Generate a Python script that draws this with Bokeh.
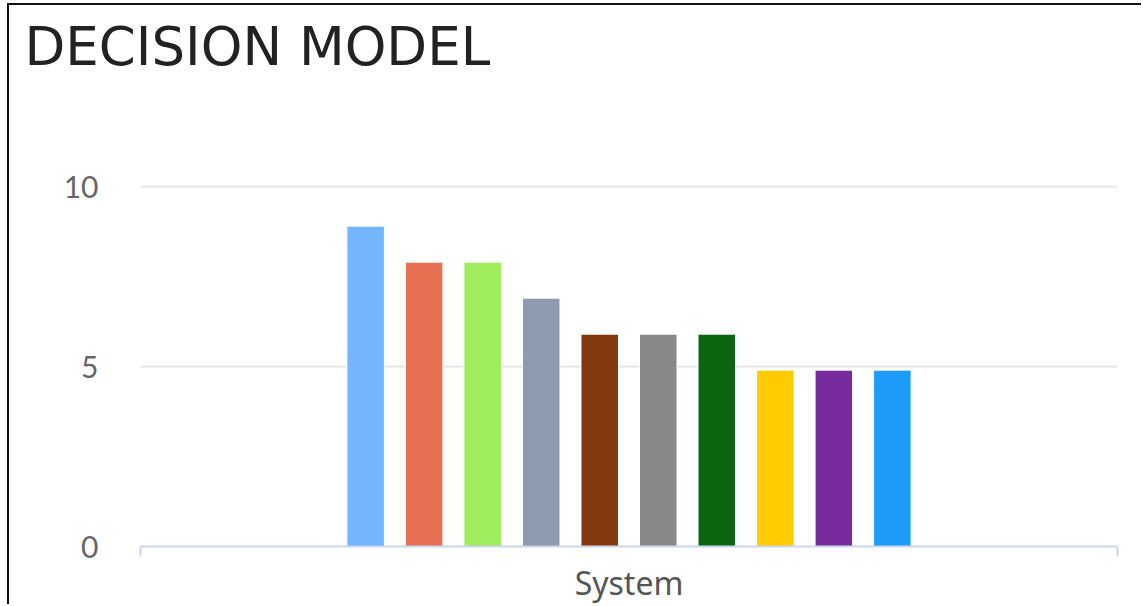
from bokeh.plotting import figure
from bokeh.models import Range1d, FixedTicker, Title
from bokeh.transform import dodge
from bokeh.embed import file_html
from bokeh.resources import INLINE

title_text = "DECISION MODEL"
categories = ["System"]
series_names = ["Option 1", "Option 2", "Option 3", "Option 4", "Option 5",
                "Option 6", "Option 7", "Option 8", "Option 9", "Option 10"]
series_values = [8.9, 7.9, 7.9, 6.9, 5.9, 5.9, 5.9, 4.9, 4.9, 4.9]
series_colors = ["#74b6fd", "#e57152", "#9fec5d", "#8d9ab0", "#82390d",
                 "#888888", "#0c6510", "#fecb00", "#782b9c", "#1c9cf8"]
y_ticks = [0, 5, 10]

ncat = len(categories)
p = figure(
    x_range=Range1d(0, ncat),
    y_range=Range1d(0, 10.03),
    width=1134, height=601,
    output_backend="svg", toolbar_location=None,
    min_border_left=131, min_border_right=26,
    min_border_top=180, min_border_bottom=50,
)
p.margin = (3, 0, 0, 7)
p.styles = {"border-left": "2px solid #111", "border-top": "2px solid #111"}
p.outline_line_color = None
p.background_fill_color = "white"
p.border_fill_color = "white"

# real title (outermost) + spacer title nearest the frame
p.title.text = title_text
p.title.align = "left"
p.title.offset = -116
p.title.standoff = 14
p.title.text_font = "DejaVu Sans"
p.title.text_font_size = "53px"
p.title.text_font_style = "normal"
p.title.text_color = "#222222"
spacer = Title(text=" ", text_font_size="20px", standoff=78)
p.add_layout(spacer, "above")

# bars: one series per colour, dodged inside the single category slot
n = len(series_values)
step = 0.0599
bar_w = 0.0384
for i, (name, val, col) in enumerate(zip(series_names, series_values, series_colors)):
    src = {"x": [k + 0.5 for k in range(ncat)], "top": [val]}
    p.vbar(x=dodge("x", (i - (n - 1) / 2) * step), top="top", bottom=0,
           width=bar_w, source=src, fill_color=col, line_color="white", line_width=1,
           name=name)

# y axis
p.yaxis.ticker = FixedTicker(ticks=y_ticks)
p.yaxis.axis_line_color = None
p.yaxis.major_tick_line_color = None
p.yaxis.minor_tick_line_color = None
p.yaxis.major_label_text_font = "Lato"
p.yaxis.major_label_text_font_size = "30px"
p.yaxis.major_label_text_color = "#666666"
p.yaxis.major_label_standoff = 36
p.ygrid.ticker = FixedTicker(ticks=y_ticks)
p.ygrid.grid_line_color = "#e6e6e6"
p.ygrid.grid_line_width = 2
p.xgrid.grid_line_color = None

# x axis: ticks at category boundaries, category name as label
xax = p.xaxis[0]
xax.ticker = FixedTicker(ticks=list(range(ncat + 1)))
xax.axis_label = categories[0]
xax.axis_line_color = "#ccd6eb"
xax.axis_line_width = 2
xax.major_tick_line_color = "#ccd6eb"
xax.major_tick_line_width = 2
xax.major_tick_out = 10
xax.major_tick_in = 0
xax.minor_tick_line_color = None
xax.major_label_overrides = {k: "" for k in range(ncat + 1)}
xax.major_label_text_font_size = "0px"
xax.axis_label_text_font = "Noto Sans"
xax.axis_label_text_font_size = "32px"
xax.axis_label_text_font_style = "normal"
xax.axis_label_text_color = "#555555"
xax.axis_label_standoff = 4

open("out.html", "w").write(file_html(p, INLINE))
